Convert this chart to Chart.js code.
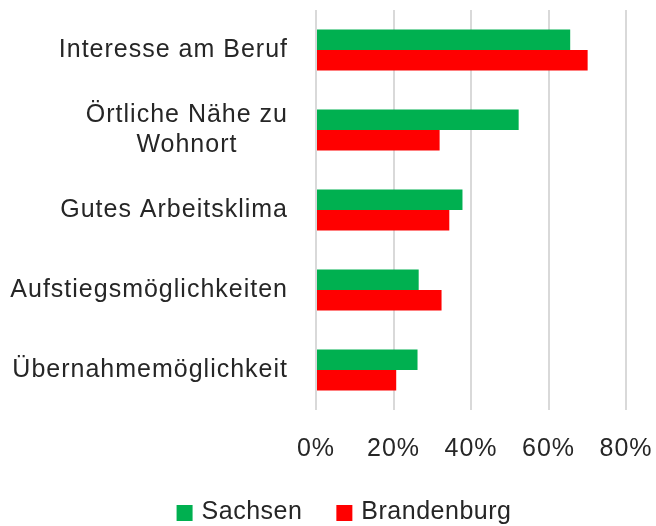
<!DOCTYPE html>
<html>
<head>
<meta charset="utf-8">
<script src="https://cdn.jsdelivr.net/npm/chart.js@4"></script>
<style>
  html, body { margin: 0; padding: 0; background: #ffffff; }
  #wrap { width: 656px; height: 526px; }
</style>
</head>
<body>
<div id="wrap"><canvas id="c" width="656" height="526"></canvas></div>
<script>
const categories = [
  ["Interesse am Beruf"],
  ["Örtliche Nähe zu", "Wohnort"],
  ["Gutes Arbeitsklima"],
  ["Aufstiegsmöglichkeiten"],
  ["Übernahmemöglichkeit"]
];
const seriesNames = ["Sachsen", "Brandenburg"];
const sachsen = [65.6, 52.3, 37.8, 26.5, 26.2];
const brandenburg = [70.1, 31.9, 34.4, 32.4, 20.7];
const xTicks = [0, 20, 40, 60, 80];
const colors = ['#00B050', '#FF0000'];

const TEXT = '#262626';
const FONT = '"Liberation Sans", Arial, sans-serif';
Chart.defaults.font.family = FONT;
Chart.defaults.font.size = 25;
Chart.defaults.color = TEXT;

const spacingPlugin = {
  id: 'spacing',
  beforeUpdate(chart) { chart.ctx.letterSpacing = '1px'; },
  beforeLayout(chart) { chart.ctx.letterSpacing = '1px'; },
  beforeDraw(chart) { chart.ctx.letterSpacing = '1px'; }
};

const yLabelPlugin = {
  id: 'ylabels',
  afterDraw(chart) {
    const ctx = chart.ctx, y = chart.scales.y;
    ctx.save();
    ctx.font = '25px ' + FONT;
    ctx.letterSpacing = '1px';
    ctx.fillStyle = TEXT;
    ctx.textAlign = 'left';
    ctx.textBaseline = 'middle';
    const right = chart.chartArea.left - 28;
    categories.forEach((lines, i) => {
      const w = Math.max(...lines.map(l => ctx.measureText(l).width));
      const cx = right - w / 2;
      const cy = y.getPixelForValue(i);
      lines.forEach((l, j) => {
        const lw = ctx.measureText(l).width;
        ctx.fillText(l, cx - lw / 2, cy + (j - (lines.length - 1) / 2) * 30);
      });
    });
    ctx.restore();
  }
};

const legendPlugin = {
  id: 'customLegend',
  afterDraw(chart) {
    const ctx = chart.ctx;
    ctx.save();
    ctx.font = '25px ' + FONT;
    ctx.letterSpacing = '0.5px';
    ctx.textBaseline = 'middle';
    ctx.textAlign = 'left';
    const box = 16, gapText = 9, gapItem = 34, cy = 512;
    const widths = seriesNames.map(n => ctx.measureText(n).width);
    const total = widths.reduce((a, w) => a + box + gapText + w, 0) + gapItem * (seriesNames.length - 1);
    let x = (chart.width - total) / 2 + 16;
    seriesNames.forEach((n, i) => {
      ctx.fillStyle = colors[i];
      ctx.fillRect(x, cy - box / 2 + 1, box, box);
      ctx.fillStyle = TEXT;
      ctx.fillText(n, x + box + gapText, cy);
      x += box + gapText + widths[i] + gapItem;
    });
    ctx.restore();
  }
};

new Chart(document.getElementById('c'), {
  type: 'bar',
  data: {
    labels: categories.map(c => c.join(' ')),
    datasets: [
      { label: seriesNames[0], data: sachsen, backgroundColor: colors[0], borderWidth: 0 },
      { label: seriesNames[1], data: brandenburg, backgroundColor: colors[1], borderWidth: 0 }
    ]
  },
  options: {
    indexAxis: 'y',
    responsive: false,
    animation: false,
    devicePixelRatio: 1,
    categoryPercentage: 0.51,
    barPercentage: 1.0,
    layout: { padding: { top: 10, right: 30, bottom: 38, left: 0 } },
    scales: {
      x: {
        min: 0, max: 80,
        afterBuildTicks(scale) { scale.ticks = xTicks.map(v => ({ value: v })); },
        afterFit(scale) { scale.paddingRight = 0; scale.paddingLeft = 0; },
        ticks: { callback: v => v + '%', padding: 24, color: TEXT, font: { size: 25 } },
        grid: { color: '#d9d9d9', lineWidth: 2, drawTicks: false },
        border: { display: false }
      },
      y: {
        ticks: { display: false },
        grid: { display: false },
        border: { display: false },
        afterFit(scale) { scale.width = 316; }
      }
    },
    plugins: {
      legend: { display: false },
      tooltip: { enabled: false }
    }
  },
  plugins: [spacingPlugin, yLabelPlugin, legendPlugin]
});
</script>
</body>
</html>
